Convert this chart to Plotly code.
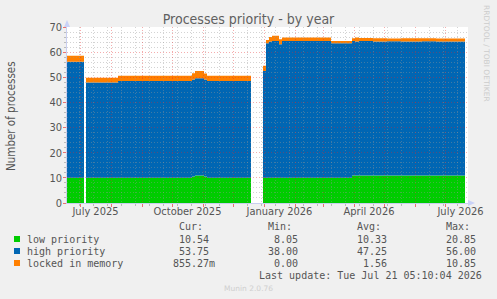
import plotly.graph_objects as go

# ---------------- data ----------------
dates = ["2025-06-18", "2025-07-05", "2025-07-07", "2025-08-08", "2025-10-21",
         "2025-10-24", "2025-11-02", "2025-11-05", "2025-12-19", "2025-12-31",
         "2026-01-03", "2026-01-06", "2026-01-09", "2026-01-16", "2026-01-19",
         "2026-03-09", "2026-03-30", "2026-04-02", "2026-04-06", "2026-04-20",
         "2026-05-04", "2026-05-18", "2026-06-08", "2026-06-22", "2026-07-21"]
low_priority = [10.0, None, 10.0, 10.0, 10.5, 10.9, 10.5, 10.0, None, 10.0,
                10.0, 10.0, 10.0, 10.0, 10.0, 10.0, 10.9, 10.9, 10.9, 10.9,
                10.9, 10.9, 10.9, 10.9, 10.54]
high_priority = [46.2, None, 37.9, 38.5, 38.6, 38.7, 38.6, 38.5, None, 42.5,
                 53.5, 54.2, 54.4, 53.1, 54.4, 53.5, 53.5, 53.3, 53.5, 53.3,
                 53.4, 53.3, 53.4, 53.3, 53.75]
locked_memory = [2.4, None, 1.9, 2.1, 2.5, 2.9, 2.4, 2.1, None, 2.1,
                 1.3, 1.8, 2.1, 2.0, 1.4, 0.9, 1.1, 1.6, 1.2, 1.3,
                 1.1, 1.3, 1.2, 1.2, 0.86]

series_names = ["low priority", "high priority", "locked in memory"]
series_colors = ["#00cc00", "#0066b3", "#ff8000"]
stat_cur = ["10.54", "53.75", "855.27m"]
stat_min = ["8.05", "38.00", "0.00"]
stat_avg = ["10.33", "47.25", "1.56"]
stat_max = ["20.85", "56.00", "10.85"]

month_label_dates = ["2025-07-16 12:00", "2025-10-16 12:00", "2026-01-16 12:00",
                     "2026-04-16 00:00", "2026-07-16 12:00"]
month_labels = ["July 2025", "October 2025", "January 2026", "April 2026", "July 2026"]
y_ticks = [0, 10, 20, 30, 40, 50, 60, 70]
x_range = ["2025-06-18", "2026-07-24"]
y_range = [0, 70]

title_text = "Processes priority - by year"
y_title = "Number of processes"
last_update = "Last update: Tue Jul 21 05:10:04 2026"
side_text = "RRDTOOL / TOBI OETIKER"
footer = "Munin 2.0.76"

# ---------------- layout geometry (pixels) ----------------
W, H = 497, 299
L, R, T, B = 67, 468, 27, 203


def px(x):
    return (x - L) / (R - L)


def py(y):
    return (B - y) / (B - T)


TEXT = "#555555"
FONT = "DejaVu Sans Condensed, DejaVu Sans"
MONO = "DejaVu Sans Mono"

fig = go.Figure()

for name, vals, col in zip(series_names, [low_priority, high_priority, locked_memory], series_colors):
    yv = [v if v is not None else 0 for v in vals]
    fig.add_trace(go.Scatter(
        x=dates, y=yv, name=name, mode="lines", line=dict(width=0, shape="hv"),
        stackgroup="one", fillcolor=col, xaxis="x", yaxis="y",
        hoverinfo="skip", showlegend=False))

# invisible trace carrying the grid overlay subplot
fig.add_trace(go.Scatter(x=dates, y=[v if v is not None else 0 for v in low_priority],
                         mode="lines", line=dict(width=0), opacity=0, xaxis="x2", yaxis="y2",
                         hoverinfo="skip", showlegend=False))

MAJ = "rgba(225,40,40,0.38)"
MIN = "rgba(150,150,150,0.42)"
AXIS = "#c9cff0"

fig.update_layout(
    width=W, height=H,
    margin=dict(l=L, r=W - R, t=T, b=H - B, pad=0),
    paper_bgcolor="#f0f0f0", plot_bgcolor="rgba(0,0,0,0)",
    showlegend=False,
    title=dict(text=title_text, x=0.5, xref="container", xanchor="center",
               y=1 - 19 / H, yref="container", yanchor="middle",
               font=dict(family=FONT, size=14, color="#606060")),
    xaxis=dict(type="date", range=x_range, domain=[0, 1], anchor="y",
               tickvals=month_label_dates, ticktext=month_labels, ticks="",
               showgrid=False, zeroline=False, showline=False,
               tickfont=dict(family=FONT, size=11, color=TEXT)),
    yaxis=dict(range=y_range, domain=[0, 1], anchor="x", tickvals=y_ticks, ticks="",
               showgrid=False, zeroline=False, showline=False, ticklabelstandoff=4,
               tickfont=dict(family=FONT, size=11, color=TEXT)),
    xaxis2=dict(type="date", range=x_range, domain=[0, 1], anchor="y2",
                tick0="2025-07-01", dtick="M1", showticklabels=False,
                showgrid=True, gridcolor=MAJ, griddash="1px,2px", gridwidth=1,
                ticks="outside", ticklen=3, tickcolor="rgba(230,60,60,0.7)",
                showline=True, linecolor=AXIS, linewidth=1, zeroline=False,
                minor=dict(tick0="2025-07-14", dtick=14 * 86400000, showgrid=True,
                           gridcolor=MIN, griddash="1px,2px", gridwidth=1,
                           ticks="outside", ticklen=2, tickcolor="#bbbbbb")),
    yaxis2=dict(range=y_range, domain=[0, 1], anchor="x2", dtick=10, tick0=0,
                showticklabels=False, showgrid=True, gridcolor=MAJ, griddash="1px,2px",
                ticks="outside", ticklen=3, tickcolor="rgba(230,60,60,0.7)",
                showline=True, linecolor=AXIS, linewidth=1, zeroline=False,
                minor=dict(dtick=2, showgrid=True, gridcolor=MIN, griddash="1px,2px",
                           ticks="outside", ticklen=2, tickcolor="#bbbbbb")),
)

shapes = [
    dict(type="rect", xref="paper", yref="paper", x0=0, x1=1, y0=0, y1=1,
         fillcolor="white", line=dict(width=0), layer="below"),
    # axis arrows
    dict(type="path", xref="paper", yref="paper", layer="above",
         path=f"M {px(64)},{py(27)} L {px(70)},{py(27)} L {px(67)},{py(20)} Z",
         fillcolor="#c9d2f7", line=dict(width=0)),
    dict(type="path", xref="paper", yref="paper", layer="above",
         path=f"M {px(468)},{py(200)} L {px(468)},{py(206)} L {px(475)},{py(203)} Z",
         fillcolor="#c9d2f7", line=dict(width=0)),
]

ann = []
ann.append(dict(text=y_title, xref="paper", yref="paper", x=px(11), y=py(116),
                xanchor="center", yanchor="middle", textangle=-90, showarrow=False,
                font=dict(family=FONT, size=11.5, color=TEXT)))
ann.append(dict(text=side_text, xref="paper", yref="paper", x=px(487), y=py(53),
                xanchor="center", yanchor="middle", textangle=90, showarrow=False,
                font=dict(family="DejaVu Sans", size=7.5, color="#cccccc")))
ann.append(dict(text=footer, xref="paper", yref="paper", x=px(248), y=py(288),
                xanchor="center", yanchor="middle", showarrow=False,
                font=dict(family="DejaVu Sans", size=7.5, color="#cfcfcf")))

mono = dict(family=MONO, size=10, color=TEXT)
headers = ["Cur:", "Min:", "Avg:", "Max:"]
head_right = [204, 293, 382, 470.5]
val_right = [210, 299, 388, 476.5]
row_y = [239, 251, 263]
for h, xr in zip(headers, head_right):
    ann.append(dict(text=h, xref="paper", yref="paper", x=px(xr + 1), y=py(227),
                    xanchor="right", yanchor="middle", showarrow=False, font=mono))
columns = [stat_cur, stat_min, stat_avg, stat_max]
for i, (name, col) in enumerate(zip(series_names, series_colors)):
    yy = row_y[i]
    shapes.append(dict(type="rect", xref="paper", yref="paper",
                       x0=px(14), x1=px(20), y0=py(yy + 3), y1=py(yy - 3),
                       fillcolor=col, line=dict(width=0), layer="above"))
    ann.append(dict(text=name, xref="paper", yref="paper", x=px(25), y=py(yy),
                    xanchor="left", yanchor="middle", showarrow=False, font=mono))
    for colvals, xr in zip(columns, val_right):
        v = colvals[i]
        shift = 6 if v[-1].isalpha() else 0
        ann.append(dict(text=v, xref="paper", yref="paper", x=px(xr + 1 + shift), y=py(yy),
                        xanchor="right", yanchor="middle", showarrow=False, font=mono))
ann.append(dict(text=last_update, xref="paper", yref="paper", x=px(484), y=py(275),
                xanchor="right", yanchor="middle", showarrow=False, font=mono))

fig.update_layout(shapes=shapes, annotations=ann)
fig.write_html("out.html")
